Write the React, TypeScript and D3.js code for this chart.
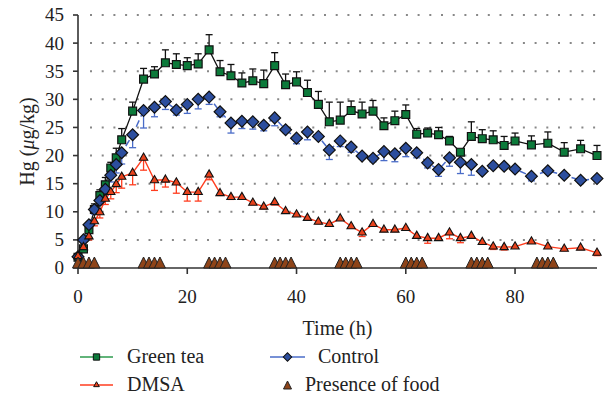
import React from 'react';
import * as d3 from 'd3';

// sampling times (h)
const hours = [0, 1, 2, 3, 4, 5, 6, 7, 8, 10, 12, 14, 16, 18, 20, 22, 24, 26, 28, 30, 32, 34, 36, 38, 40,
  42, 44, 46, 48, 50, 52, 54, 56, 58, 60, 62, 64, 66, 68, 70, 72, 74, 76, 78, 80, 83, 86, 89, 92, 95];

const greenTea = [1.9, 3.4, 6.8, 10.4, 12.9, 14.8, 17.8, 19.6, 22.8, 27.9, 33.6, 34.5, 36.5, 36.2, 36.0, 36.3,
  38.8, 34.9, 34.2, 32.9, 33.3, 32.8, 36.0, 32.6, 33.1, 31.2, 29.1, 26.0, 26.3, 28.0, 27.4, 27.9, 25.3, 26.2,
  27.3, 23.8, 24.0, 23.7, 22.6, 20.6, 23.4, 23.0, 22.8, 21.8, 22.6, 21.9, 22.2, 20.6, 21.2, 20.0];
const greenTeaErr = [0.3, 0.5, 0.8, 1.0, 1.0, 1.3, 1.0, 1.7, 2.0, 1.6, 1.9, 1.3, 2.3, 1.9, 1.4, 1.8, 2.7, 2.0,
  2.0, 1.8, 2.1, 2.4, 2.3, 1.9, 1.8, 2.2, 2.3, 3.5, 3.2, 1.7, 2.1, 1.9, 1.4, 1.7, 1.7, 1.0, 0.9, 1.3, 0.8, 0.5,
  2.6, 1.6, 1.6, 1.6, 1.4, 1.6, 2.0, 1.7, 1.5, 1.8];

const control = [2.0, 5.0, 7.7, 10.4, 12.0, 14.0, 16.5, 18.4, 20.5, 23.7, 28.0, 28.6, 29.6, 28.1, 29.1, 30.0,
  30.4, 27.8, 25.8, 26.1, 26.0, 25.4, 26.7, 24.6, 23.1, 24.2, 23.4, 21.0, 22.6, 21.5, 19.9, 19.5, 20.7, 20.3,
  21.3, 20.5, 18.7, 17.5, 19.6, 18.8, 18.4, 17.2, 18.2, 18.1, 17.6, 16.3, 17.3, 16.5, 15.6, 15.9];
const controlErr = [0.3, 0.5, 0.5, 0.8, 0.8, 1.0, 1.2, 1.5, 2.0, 2.3, 3.1, 1.7, 1.4, 0.9, 1.6, 1.7, 1.3, 0.9,
  1.8, 1.3, 1.3, 1.0, 1.4, 0.5, 1.0, 1.4, 0.5, 1.7, 1.0, 0.9, 0.5, 0.6, 1.6, 1.4, 1.5, 0.9, 0.9, 1.2, 1.5, 2.0,
  1.9, 0.4, 0.4, 0.4, 0.4, 0.8, 0.4, 0.4, 0.5, 0.4];

const dmsa = [2.1, 3.7, 5.6, 8.3, 9.9, 12.3, 13.5, 14.9, 16.2, 16.9, 19.6, 15.6, 15.7, 15.2, 13.5, 13.5, 16.6,
  13.3, 12.6, 12.6, 11.6, 10.9, 11.7, 10.1, 9.5, 8.9, 8.2, 7.8, 8.8, 7.4, 6.3, 7.8, 6.8, 6.8, 7.1, 5.7, 5.3,
  5.3, 6.3, 5.3, 5.7, 4.6, 3.8, 3.7, 3.8, 4.7, 3.8, 3.4, 3.6, 2.7];
const dmsaErr = [0.3, 0.5, 0.6, 0.8, 1.0, 1.0, 1.2, 1.5, 2.0, 2.1, 2.2, 1.8, 1.3, 1.9, 1.6, 1.6, 0.9, 0.4,
  0.4, 0.3, 0.3, 0.4, 0.5, 0.3, 0.3, 0.3, 0.3, 0.3, 0.3, 0.3, 0.7, 0.3, 0.3, 0.3, 0.3, 0.3, 0.9, 0.3, 1.1, 0.8,
  0.3, 0.3, 0.5, 0.5, 0.3, 0.3, 0.3, 0.3, 0.3, 0.5];

// meal times (h)
const foodTimes = [0, 1, 2, 3, 12, 13, 14, 15, 24, 25, 26, 27, 36, 37, 38, 39, 48, 49, 50, 51,
  60, 61, 62, 63, 72, 73, 74, 75, 84, 85, 86, 87];

const yTicks = [0, 5, 10, 15, 20, 25, 30, 35, 40, 45];
const xTicks = [0, 20, 40, 60, 80];

const W = 609;
const H = 397;
const font = '"Liberation Serif", "Times New Roman", serif';

const x = d3.scaleLinear().domain([0, 95]).range([78, 597]);
const y = d3.scaleLinear().domain([0, 45]).range([268, 15]);

const lineGen = d3.line<number>().x((d, i) => x(hours[i])).y(d => y(d));

const squarePath = d3.symbol().type(d3.symbolSquare).size(62)()!;
const diamondPath = d3.symbol().type(d3.symbolSquare).size(70)()!;
const triPath = d3.symbol().type(d3.symbolTriangle).size(30)()!;

const foodTri = (w: number, h: number) => {
  const p = d3.path();
  p.moveTo(-w / 2, 0);
  p.lineTo(0, -h);
  p.lineTo(w / 2, 0);
  p.closePath();
  return p.toString();
};

const GREEN = '#0c7a3a';
const BLUE = '#2c4e9e';
const BLUE_LINE = '#4a6cc8';
const RED = '#ff3d1f';
const RED_FILL = '#e8421c';
const BROWN = '#8e4419';

function ErrorBars({ vals, errs, dir, color }: { vals: number[]; errs: number[]; dir: number; color: string }) {
  return (
    <g stroke={color} strokeWidth={1.3}>
      {vals.map((v, i) => {
        const cx = x(hours[i]);
        const y2 = y(v + dir * errs[i]);
        return (
          <g key={i}>
            <line x1={cx} x2={cx} y1={y(v)} y2={y2} />
            <line x1={cx - 3.5} x2={cx + 3.5} y1={y2} y2={y2} />
          </g>
        );
      })}
    </g>
  );
}

export default function App() {
  const foodPath = foodTri(11, 11);
  return (
    <svg width={W} height={H} style={{ position: 'absolute', left: 0, top: 0, background: '#fff' }} fontFamily={font}>
      {/* dotted grid */}
      <g stroke="#888" strokeWidth={2} strokeDasharray="2 9.7">
        {yTicks.filter(t => t > 0).map(t => (
          <line key={t} x1={90} x2={597} y1={y(t)} y2={y(t)} />
        ))}
      </g>

      {/* axes */}
      <g stroke="#333" strokeWidth={1.6}>
        <line x1={x(0)} x2={x(0)} y1={y(45)} y2={y(0)} />
        <line x1={x(0)} x2={597} y1={y(0)} y2={y(0)} />
        {yTicks.map(t => (
          <line key={t} x1={x(0) - 5} x2={x(0)} y1={y(t)} y2={y(t)} />
        ))}
        {xTicks.map(t => (
          <line key={t} x1={x(t)} x2={x(t)} y1={y(0)} y2={y(0) + 6} />
        ))}
      </g>
      <g fontSize={19} fill="#222">
        {yTicks.map(t => (
          <text key={t} x={64} y={y(t)} dy="0.34em" textAnchor="end">{t}</text>
        ))}
        {xTicks.map(t => (
          <text key={t} x={x(t)} y={303} textAnchor="middle">{t}</text>
        ))}
      </g>
      <text x={(x(0) + 597) / 2} y={335} textAnchor="middle" fontSize={20} fill="#222">Time (h)</text>
      <text transform={`translate(34, ${(y(0) + y(45)) / 2}) rotate(-90)`} textAnchor="middle" fontSize={20} fill="#222">
        Hg (<tspan fontStyle="italic">μ</tspan>g/kg)
      </text>

      {/* error bars */}
      <ErrorBars vals={greenTea} errs={greenTeaErr} dir={1} color="#111" />
      <ErrorBars vals={control} errs={controlErr} dir={-1} color={BLUE_LINE} />
      <ErrorBars vals={dmsa} errs={dmsaErr} dir={-1} color={RED} />

      {/* lines */}
      <path d={lineGen(greenTea)!} fill="none" stroke="#111" strokeWidth={1.3} />
      <path d={lineGen(control)!} fill="none" stroke={BLUE_LINE} strokeWidth={1.5} strokeDasharray="7 4" />
      <path d={lineGen(dmsa)!} fill="none" stroke={RED} strokeWidth={1.4} />

      {/* markers */}
      {greenTea.map((v, i) => (
        <path key={'g' + i} d={squarePath} transform={`translate(${x(hours[i])},${y(v)})`} fill={GREEN} stroke="#111" strokeWidth={1.2} />
      ))}
      {control.map((v, i) => (
        <path key={'c' + i} d={diamondPath} transform={`translate(${x(hours[i])},${y(v)}) rotate(45)`} fill={BLUE} stroke="#111" strokeWidth={1.2} />
      ))}
      {dmsa.map((v, i) => (
        <path key={'d' + i} d={triPath} transform={`translate(${x(hours[i])},${y(v)})`} fill={RED_FILL} stroke="#111" strokeWidth={1.1} />
      ))}
      {foodTimes.map((t, i) => (
        <path key={'f' + i} d={foodPath} transform={`translate(${x(t)},${y(0)})`} fill={BROWN} stroke="#222" strokeWidth={1} />
      ))}

      {/* legend */}
      <g fontSize={20} fill="#222">
        <line x1={80} x2={113} y1={357} y2={357} stroke="#2e9b4e" strokeWidth={1.5} />
        <path d={d3.symbol().type(d3.symbolSquare).size(40)()!} transform="translate(96.5,357)" fill={GREEN} stroke="#111" />
        <text x={127} y={363}>Green tea</text>

        <line x1={270} x2={305} y1={357} y2={357} stroke={BLUE_LINE} strokeWidth={1.5} />
        <path d={d3.symbol().type(d3.symbolSquare).size(36)()!} transform="translate(287.5,357) rotate(45)" fill={BLUE} stroke="#111" />
        <text x={318} y={363}>Control</text>

        <line x1={80} x2={113} y1={385} y2={385} stroke={RED} strokeWidth={1.5} />
        <path d={d3.symbol().type(d3.symbolTriangle).size(14)()!} transform="translate(96.5,385)" fill={RED_FILL} stroke="#111" />
        <text x={127} y={391}>DMSA</text>

        <path d={foodTri(8, 8)} transform="translate(287.5,389)" fill={BROWN} stroke="#222" />
        <text x={305} y={391}>Presence of food</text>
      </g>
    </svg>
  );
}
